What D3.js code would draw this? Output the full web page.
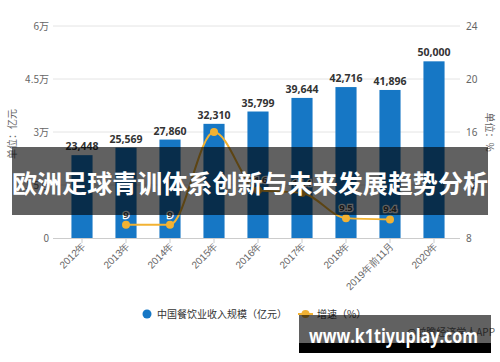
<!DOCTYPE html>
<html><head><meta charset="utf-8">
<script src="https://cdn.jsdelivr.net/npm/d3@7"></script>
<style>
body{margin:0;background:#fff;}
svg{display:block;font-family:"Noto Sans CJK SC","Noto Sans",sans-serif;}
</style></head>
<body>
<svg id="c" width="500" height="362"></svg>
<script>
const categories = ["2012年","2013年","2014年","2015年","2016年","2017年","2018年","2019年前11月","2020年"];
const revenue = [23448,25569,27860,32310,35799,39644,42716,41896,50000];
const growth = [null,9,9,16,11.6,11.4,9.5,9.4,null];
const leftTicks = [0,15000,30000,45000,60000];
const leftTickLabels = ["0","1.5万","3万","4.5万","6万"];
const rightTicks = [8,12,16,20,24];
const legendLabels = ["中国餐饮业收入规模（亿元）","增速（%）"];
const title = "欧洲足球青训体系创新与未来发展趋势分析";
const watermark = "www.k1tiyuplay.com";
const source = "@前瞻经济学人APP";

const svg = d3.select("#c");
const x = d3.scaleBand().domain(categories).range([60,456]).paddingInner(0.52).paddingOuter(0.26);
const yL = d3.scaleLinear().domain([0,60000]).range([238,26]);
const yR = d3.scaleLinear().domain([8,24]).range([238,26]);
const blue = "#1677c5", gold = "#f2b233";

// gridlines
svg.append("g").selectAll("line").data(leftTicks.slice(1)).join("line")
  .attr("x1",53).attr("x2",460).attr("y1",d=>yL(d)).attr("y2",d=>yL(d))
  .attr("stroke","#e4e4e4").attr("stroke-width",1);

// left axis
const la = svg.append("g").attr("transform","translate(53,0)")
  .call(d3.axisLeft(yL).tickValues(leftTicks).tickFormat((d,i)=>leftTickLabels[i]).tickSize(0).tickPadding(4));
la.select(".domain").remove();
la.selectAll("text").attr("fill","#666").style("font-size","10px").style("font-family","'Noto Sans CJK SC',sans-serif");

// right axis
const ra = svg.append("g").attr("transform","translate(460,0)")
  .call(d3.axisRight(yR).tickValues(rightTicks).tickSize(0).tickPadding(6));
ra.select(".domain").remove();
ra.selectAll("text").attr("fill","#666").style("font-size","10px").style("font-family","'Noto Sans',sans-serif");

// bars
svg.append("g").selectAll("rect").data(revenue).join("rect")
  .attr("x",(d,i)=>x(categories[i])).attr("width",x.bandwidth())
  .attr("y",d=>yL(d)).attr("height",d=>yL(0)-yL(d)).attr("fill",blue);

// bar labels
svg.append("g").selectAll("text").data(revenue).join("text")
  .attr("x",(d,i)=>x(categories[i])+x.bandwidth()/2).attr("y",d=>yL(d)-5)
  .attr("text-anchor","middle").attr("fill","#333").style("font-size","10.5px").style("font-weight","bold")
  .style("font-family","'Noto Sans',sans-serif")
  .text(d=>d3.format(",")(d));

// x axis
const xa = svg.append("g").attr("transform","translate(0,238)")
  .call(d3.axisBottom(x).tickSize(5).tickPadding(3));
xa.select(".domain").attr("d","M53,0.5H460").attr("stroke","#ccc");
xa.selectAll(".tick line").attr("stroke","#ccc");
xa.selectAll("text").attr("fill","#666").style("font-size","10px")
  .attr("text-anchor","end").attr("transform","translate(2,6) rotate(-45)").attr("dy","0.35em").attr("y",0).attr("x",0);

// growth line
const pts = growth.map((g,i)=>({g,c:categories[i]})).filter(p=>p.g!==null);
const line = d3.line().x(p=>x(p.c)+x.bandwidth()/2).y(p=>yR(p.g)).curve(d3.curveMonotoneX);
svg.append("path").datum(pts).attr("d",line).attr("fill","none").attr("stroke",gold).attr("stroke-width",2);
svg.append("g").selectAll("circle").data(pts).join("circle")
  .attr("cx",p=>x(p.c)+x.bandwidth()/2).attr("cy",p=>yR(p.g)).attr("r",4).attr("fill",gold);
svg.append("g").selectAll("text").data(pts.filter(p=>p.c!=="2015年")).join("text")
  .attr("x",p=>x(p.c)+x.bandwidth()/2).attr("y",p=>yR(p.g)-7)
  .attr("text-anchor","middle").attr("fill","#444").style("font-size","9.5px").style("font-weight","bold")
  .attr("stroke","#fff").attr("stroke-width",2.5).attr("paint-order","stroke")
  .style("font-family","'Noto Sans',sans-serif").text(p=>p.g);

// axis titles
svg.append("text").attr("transform","translate(16,134) rotate(-90)").attr("text-anchor","middle")
  .attr("fill","#666").style("font-size","10px").text("单位：亿元");
svg.append("text").attr("transform","translate(486,132) rotate(90)").attr("text-anchor","middle")
  .attr("fill","#666").style("font-size","10px").text("单位：%");

// legend
const lg = svg.append("g");
lg.append("circle").attr("cx",147).attr("cy",314).attr("r",4.5).attr("fill",blue);
lg.append("text").attr("x",157).attr("y",318).attr("fill","#333").style("font-size","10px").text(legendLabels[0]);
lg.append("line").attr("x1",298).attr("x2",313).attr("y1",314).attr("y2",314).attr("stroke",gold).attr("stroke-width",2);
lg.append("circle").attr("cx",305.5).attr("cy",314).attr("r",4).attr("fill",gold);
lg.append("text").attr("x",317).attr("y",318).attr("fill","#333").style("font-size","10px").text(legendLabels[1]);

// source
svg.append("text").attr("x",495).attr("y",336).attr("text-anchor","end").attr("fill","#666").style("font-size","10px").text(source);

// title banner
svg.append("rect").attr("x",12).attr("y",147).attr("width",476).attr("height",68).attr("fill","#000").attr("opacity",0.62);
svg.append("text").attr("x",250).attr("y",193).attr("text-anchor","middle").attr("fill","#fff")
  .style("font-size","25px").style("font-weight","bold").attr("textLength",476).attr("lengthAdjust","spacingAndGlyphs")
  .text(title);

// watermark box
svg.append("rect").attr("x",299).attr("y",315).attr("width",192).attr("height",28).attr("fill","#000").attr("opacity",0.62);
svg.append("rect").attr("x",299).attr("y",343).attr("width",192).attr("height",10).attr("fill","#000");
svg.append("text").attr("x",309).attr("y",343).attr("fill","#fff")
  .style("font-size","19px").style("font-weight","bold").style("font-family","'Open Sans','Noto Sans',sans-serif")
  .attr("textLength",169).attr("lengthAdjust","spacingAndGlyphs").text(watermark);
</script>
</body></html>
